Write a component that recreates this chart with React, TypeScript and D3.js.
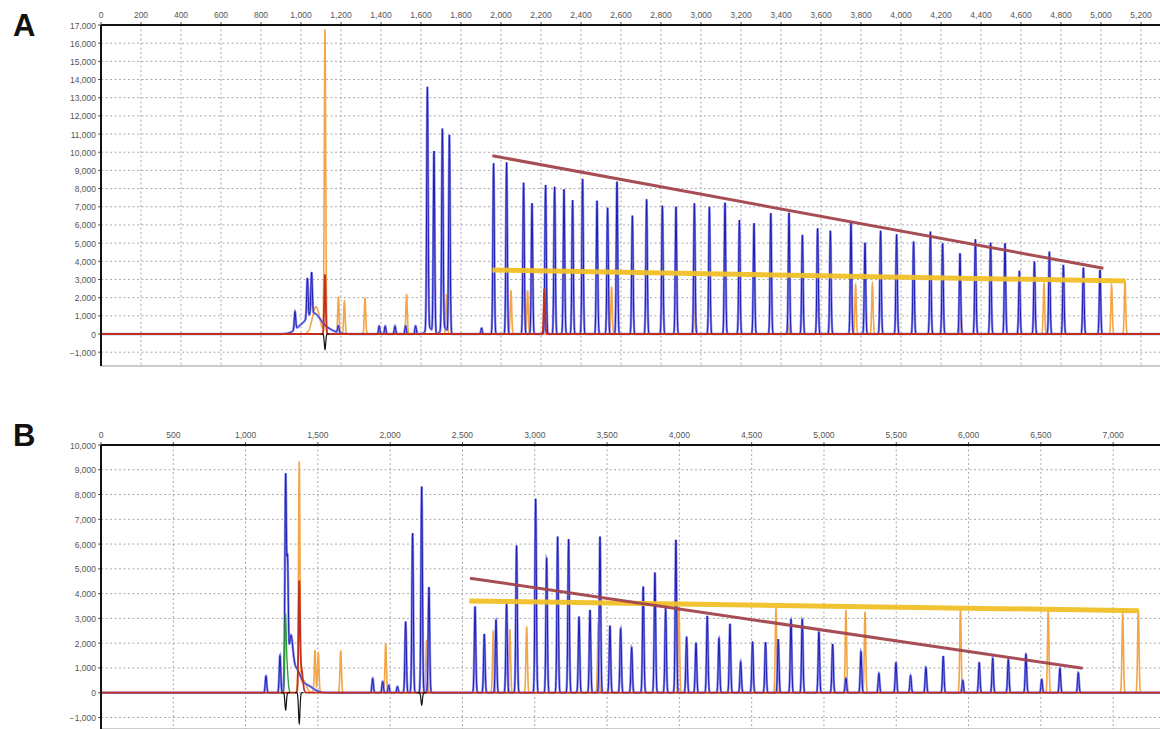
import React from 'react';
import * as d3 from 'd3';

const W = 1160;
const H = 729;

// ---------- Panel A data ----------
const A_X_TICKS = [0, 200, 400, 600, 800, 1000, 1200, 1400, 1600, 1800, 2000, 2200, 2400, 2600, 2800, 3000, 3200, 3400, 3600, 3800, 4000, 4200, 4400, 4600, 4800, 5000, 5200];
const A_Y_TICKS = [-1000, 0, 1000, 2000, 3000, 4000, 5000, 6000, 7000, 8000, 9000, 10000, 11000, 12000, 13000, 14000, 15000, 16000, 17000];

// peaks: [position, height, optional width (sigma, data units)]
const A_BLUE: number[][] = [
  [1010, 450, 35], [1065, 800, 30], [1110, 350, 45],
  [970, 1000], [1032, 2200], [1053, 2300], [1187, 380],
  [1391, 440], [1421, 440], [1470, 440], [1523, 450], [1573, 450],
  [1640, 350, 14], [1715, 350, 14],
  [1632, 13300], [1665, 10000], [1707, 11000], [1742, 10900],
  [1903, 330],
  [1963, 9390], [2028, 9440], [2113, 8320], [2155, 7190], [2223, 8200], [2268, 8100], [2315, 7960],
  [2358, 7370], [2408, 8530], [2480, 7330], [2533, 6950], [2580, 8380], [2657, 6510], [2728, 7410],
  [2807, 7060], [2875, 7000], [2967, 7190], [3042, 7000], [3120, 7220], [3192, 6270], [3265, 6090],
  [3349, 6640], [3440, 6670], [3507, 5450], [3583, 5810], [3647, 5680], [3750, 6120], [3820, 5020],
  [3898, 5680], [3978, 5480], [4063, 5080], [4147, 5630], [4208, 4990], [4295, 4440], [4372, 5210],
  [4448, 5020], [4520, 4990], [4592, 3480], [4667, 3980], [4742, 4530], [4812, 3800], [4912, 3650],
  [4995, 3520],
];
const A_ORANGE: number[][] = [
  [1075, 1500, 18], [1120, 16700], [1187, 2000], [1217, 1800], [1320, 2000], [1528, 2200],
  [1728, 2200], [2050, 2400], [2133, 2400], [2553, 2600], [2970, 2400], [3435, 600],
  [3773, 2700], [3857, 2780], [4300, 1100], [4715, 2790], [5053, 2700], [5120, 2880],
];
const A_RED: number[][] = [[1120, 3280], [2217, 2500]];
const A_BLACK: number[][] = [[1120, -850]];
const A_TREND_RED = [[1957, 9807], [5012, 3614]];
const A_TREND_YELLOW = [[1957, 3520], [5123, 2915]];

// ---------- Panel B data ----------
const B_X_TICKS = [0, 500, 1000, 1500, 2000, 2500, 3000, 3500, 4000, 4500, 5000, 5500, 6000, 6500, 7000];
const B_Y_TICKS = [-1000, 0, 1000, 2000, 3000, 4000, 5000, 6000, 7000, 8000, 9000, 10000];

const B_BLUE: number[][] = [
  [1141, 675], [1238, 1500], [1277, 8550], [1290, 4600], [1312, 1800, 14], [1345, 900, 30], [1420, 300, 45],
  [1879, 580], [1948, 450], [1990, 300], [2050, 250],
  [2107, 2870], [2155, 6440], [2218, 8320], [2268, 4260],
  [2587, 3475], [2651, 2370], [2732, 2940], [2805, 3610], [2874, 5940], [3006, 7830], [3082, 5430],
  [3158, 6300], [3234, 6200], [3306, 3070], [3382, 3340], [3451, 6300], [3520, 2710], [3594, 2590],
  [3670, 1830], [3750, 4280], [3831, 4850], [3905, 3410], [3976, 6170], [4050, 2260], [4115, 2020],
  [4193, 3100], [4274, 2200], [4350, 2780], [4424, 1250], [4506, 2060], [4596, 2040], [4684, 2160],
  [4772, 2965], [4850, 2965], [4965, 2465], [5060, 1970], [5152, 580], [5256, 1660], [5380, 780],
  [5498, 1210], [5599, 690], [5705, 1030], [5825, 1480], [5960, 500], [6074, 1210], [6167, 1390],
  [6275, 1350], [6397, 1560], [6506, 540], [6632, 990], [6759, 810],
];
const B_ORANGE: number[][] = [
  [1371, 9160], [1400, 500, 20], [1480, 1720], [1503, 1600], [1658, 1700], [1969, 2000], [2252, 2130],
  [2713, 2470], [2828, 2560], [2944, 2670], [3439, 2800], [3997, 3475], [4668, 3410],
  [5152, 3340], [5284, 3270], [5944, 3340], [6551, 3300], [7066, 3210], [7174, 3340],
];
const B_RED: number[][] = [[1371, 4150], [1385, 1000, 10]];
const B_GREEN: number[][] = [[1275, 2500], [1284, 1200, 8]];
const B_BLACK: number[][] = [[1277, -700], [1371, -1240], [2218, -500]];
const B_TREND_RED = [[2552, 4622], [6789, 986]];
const B_TREND_YELLOW = [[2547, 3705], [7178, 3313]];

// ---------- layout ----------
const PANELS = [
  {
    label: 'A', labelY: 36,
    left: 101, right: 1160, top: 25, bottom: 366,
    xDomain: [0, 5295], yDomain: [-1760, 17000],
    xTicks: A_X_TICKS, yTicks: A_Y_TICKS, sigma: 3.5, step: 1.2,
    blue: A_BLUE, orange: A_ORANGE, red: A_RED, black: A_BLACK, green: [] as number[][],
    trendRed: A_TREND_RED, trendYellow: A_TREND_YELLOW,
  },
  {
    label: 'B', labelY: 446,
    left: 101, right: 1160, top: 445, bottom: 729,
    xDomain: [0, 7324], yDomain: [-1466, 10000],
    xTicks: B_X_TICKS, yTicks: B_Y_TICKS, sigma: 5, step: 1.7,
    blue: B_BLUE, orange: B_ORANGE, red: B_RED, black: B_BLACK, green: B_GREEN,
    trendRed: B_TREND_RED, trendYellow: B_TREND_YELLOW,
  },
];

const fmt = d3.format(',');

function trace(peaks: number[][], domain: number[], step: number, sigma: number): [number, number][] {
  const xs = d3.range(domain[0], domain[1] + step, step).concat(peaks.map((p) => p[0]));
  xs.sort((a, b) => a - b);
  return xs.map((x) => {
    let y = 0;
    for (const p of peaks) {
      const s = p[2] ?? sigma;
      const d = (x - p[0]) / s;
      if (Math.abs(d) < 8) y += p[1] * Math.exp(-0.5 * d * d);
    }
    return [x, y];
  });
}

function localTrace(peaks: number[][], domain: number[], step: number, sigma: number) {
  const pts = trace(peaks, domain, step, sigma);
  return pts.map((d) => ({
    x: d[0],
    y: d[1],
    on: peaks.some((p) => Math.abs(d[0] - p[0]) < 6 * (p[2] ?? sigma)),
  }));
}

function Panel({ p }: { p: (typeof PANELS)[number] }) {
  const x = d3.scaleLinear().domain(p.xDomain).range([p.left, p.right]);
  const y = d3.scaleLinear().domain(p.yDomain).range([p.bottom, p.top]);
  const line = d3.line<[number, number]>().x((d) => x(d[0])).y((d) => y(d[1]));
  const segLine = d3
    .line<{ x: number; y: number; on: boolean }>()
    .defined((d) => d.on)
    .x((d) => x(d.x))
    .y((d) => y(d.y));
  const mk = (peaks: number[][]) => line(trace(peaks, p.xDomain, p.step, p.sigma)) || '';
  const mkLocal = (peaks: number[][]) => segLine(localTrace(peaks, p.xDomain, p.step, p.sigma)) || '';
  const tl = (pts: number[][]) => line(pts as [number, number][]) || '';
  const clipId = 'clip' + p.label;
  return (
    <g>
      <defs>
        <clipPath id={clipId}>
          <rect x={p.left} y={p.top} width={p.right - p.left} height={p.bottom - p.top} />
        </clipPath>
      </defs>
      <text x={13} y={p.labelY} fontFamily="Liberation Sans, Arial, sans-serif" fontWeight="bold" fontSize={31} fill="#111">{p.label}</text>
      {/* grid */}
      {p.xTicks.map((t) => (
        <line key={'gx' + t} x1={x(t)} x2={x(t)} y1={p.top} y2={p.bottom} stroke="#a8a8a8" strokeDasharray="2,2.5" strokeWidth={1} />
      ))}
      {p.yTicks.map((t) => (
        <line key={'gy' + t} x1={p.left} x2={p.right} y1={y(t)} y2={y(t)} stroke="#a8a8a8" strokeDasharray="2,2.5" strokeWidth={1} />
      ))}
      <line x1={p.left} x2={p.right} y1={p.bottom} y2={p.bottom} stroke="#999" strokeWidth={1} />
      {/* ticks and labels */}
      {p.xTicks.map((t) => (
        <g key={'tx' + t}>
          <line x1={x(t)} x2={x(t)} y1={p.top - 3} y2={p.top} stroke="#555" />
          <text x={x(t)} y={p.top - 7} textAnchor="middle" fontFamily="Liberation Sans, Arial, sans-serif" fontSize={8.5} fill="#555">{fmt(t)}</text>
        </g>
      ))}
      {p.yTicks.map((t) => (
        <g key={'ty' + t}>
          <line x1={p.left - 3} x2={p.left} y1={y(t)} y2={y(t)} stroke="#555" />
          <text x={p.left - 5} y={y(t) + 3.5} textAnchor="end" fontFamily="Liberation Sans, Arial, sans-serif" fontSize={8.5} fill="#555">{fmt(t)}</text>
        </g>
      ))}
      <g clipPath={`url(#${clipId})`}>
        <path d={mk(p.orange)} fill="none" stroke="#f4a546" strokeWidth={1.6} />
        <path d={mk(p.blue)} fill="none" stroke="#8e8ef0" strokeWidth={2.4} />
        <path d={mk(p.blue)} fill="none" stroke="#1d1db0" strokeWidth={1} />
        {p.green.length > 0 && <path d={mkLocal(p.green)} fill="none" stroke="#2a9a3a" strokeWidth={1.3} />}
        <path d={mk(p.red)} fill="none" stroke="#c0301c" strokeWidth={1.8} />
        <path d={mkLocal(p.black)} fill="none" stroke="#111" strokeWidth={1.2} />
        <path d={tl(p.trendYellow)} fill="none" stroke="#f0c028" strokeWidth={5} opacity={0.95} />
        <path d={tl(p.trendRed)} fill="none" stroke="#a2434d" strokeWidth={3} opacity={0.95} />
      </g>
      <line x1={p.left} x2={p.right} y1={p.top} y2={p.top} stroke="#111" strokeWidth={2} />
      <line x1={p.left} x2={p.left} y1={p.top} y2={p.bottom} stroke="#111" strokeWidth={2} />
    </g>
  );
}

export default function App() {
  return (
    <svg width={W} height={H} style={{ position: 'absolute', left: 0, top: 0, background: '#fff' }}>
      <rect width={W} height={H} fill="#fff" />
      {PANELS.map((p) => (
        <Panel key={p.label} p={p} />
      ))}
    </svg>
  );
}
